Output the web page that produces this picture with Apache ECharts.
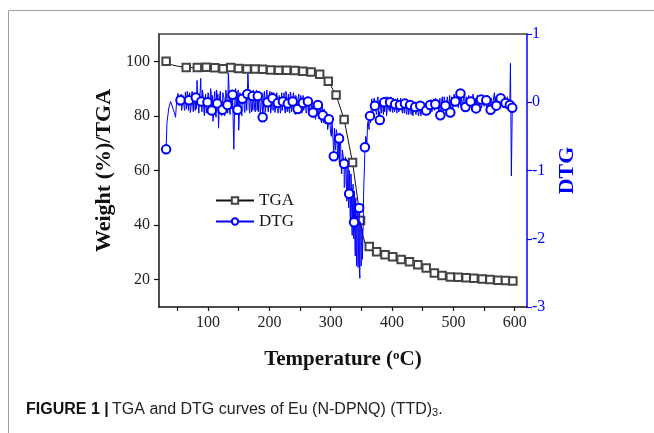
<!DOCTYPE html>
<html>
<head>
<meta charset="utf-8">
<script src="https://cdn.jsdelivr.net/npm/echarts@6/dist/echarts.min.js"></script>
<style>
html,body{margin:0;padding:0;background:#fff;}
#chart{width:654px;height:433px;}
</style>
</head>
<body>
<div id="chart"></div>
<script>
// X-axis tick labels and ticks
const xTickLabels = [100, 200, 300, 400, 500, 600];
const xTickMarks = [50, 100, 150, 200, 250, 300, 350, 400, 450, 500, 550, 600];
const yLeftTickLabels = [20, 40, 60, 80, 100];

// TGA markers (temperature °C, weight %)
const tgaT = [31.6, 64.4, 82.5, 97, 111, 124.6, 137, 149.7, 163.4, 176.5, 189, 202, 215, 228, 241.5, 254.6, 268, 282, 296, 308.7, 321.8, 335.6, 348.6, 362.8, 374.9, 388.5, 401, 414.8, 428.4, 442, 455.7, 468.9, 481.5, 495, 507.7, 520.8, 533.3, 547, 559.5, 572.6, 585, 597];
const tgaW = [100, 97.7, 97.7, 97.8, 97.6, 97.3, 97.7, 97.4, 97.2, 97.2, 97.1, 96.8, 96.7, 96.7, 96.6, 96.4, 96.1, 95.3, 92.7, 87.7, 78.7, 62.9, 41.7, 32.2, 30.2, 29.1, 28.4, 27.4, 26.6, 25.5, 24.3, 22.5, 21.5, 21.0, 20.9, 20.7, 20.5, 20.3, 20.1, 19.8, 19.7, 19.5];
// extra TGA curve points (no marker)
const tgaLineT = [40, 48, 352, 356];
const tgaLineW = [98.8, 98.3, 36.5, 33.3];

// DTG markers
const dtgMarkT = [31.6, 55, 69, 80, 89, 99, 106, 115, 123.5, 131.6, 140, 148, 156, 164, 172.6, 181, 189, 197, 205, 213.6, 222, 230, 238, 246, 254.6, 262.8, 271, 279, 287, 297, 305, 313.6, 321.8, 330, 338, 346.4, 355.7, 364, 372, 380, 387, 396.7, 405, 413, 421, 429.5, 437.7, 446, 455.7, 462, 470.5, 478.7, 487, 495, 503, 511.5, 519.7, 528, 537, 545, 553.6, 560.7, 570, 577, 585, 592, 596];
const dtgMarkV = [-0.69, 0.03, 0.03, 0.07, 0.01, 0.0, -0.12, -0.02, -0.11, -0.04, 0.11, -0.11, 0.05, 0.12, 0.09, 0.09, -0.22, 0.0, 0.06, -0.01, 0.01, -0.02, 0.01, -0.10, -0.01, 0.01, -0.15, -0.04, -0.19, -0.25, -0.79, -0.53, -0.90, -1.34, -1.76, -1.55, -0.66, -0.2, -0.05, -0.26, 0.0, 0.0, -0.03, -0.04, -0.02, -0.04, -0.07, -0.05, -0.12, -0.04, -0.03, -0.19, -0.05, -0.15, 0.01, 0.13, -0.07, 0.01, -0.09, 0.04, 0.03, -0.11, -0.05, 0.06, -0.01, -0.04, -0.08];

// DTG noisy trace (no marker)
const dtgT = [33, 36, 39, 42, 45, 47, 49, 51, 53, 57, 59, 61, 63, 65, 67, 71, 73, 75, 77, 79, 82, 84, 86, 88, 90, 92, 94, 96, 98, 101, 103, 105, 108, 110, 112, 114, 117, 119, 121, 125, 127, 129, 133, 135, 137, 139, 142, 144, 146, 150, 152, 154, 158, 160, 162, 165, 167, 169, 171, 174, 176, 178, 180, 183, 185, 187, 191, 193, 195, 199, 201, 203, 207, 209, 211, 215, 217, 219, 224, 226, 228, 232, 234, 236, 240, 242, 244, 248, 250, 252, 257, 259, 261, 265, 267, 269, 273, 275, 277, 281, 283, 285, 289, 291, 293, 295, 299, 301, 303, 307, 309, 311, 315, 317, 319, 323, 325, 327, 328.5, 331.5, 333, 334.5, 336, 339.5, 341, 342.5, 344, 345, 347.5, 349, 350.5, 352, 353.5, 355, 357, 359, 361, 362.5, 366, 368, 370, 374, 376, 378, 382, 384, 386, 389, 391, 393, 395, 399, 401, 403, 407, 409, 411, 415, 417, 419, 423, 425, 427, 432, 434, 436, 440, 442, 444, 448, 450, 452, 458, 460, 464, 466, 468, 473, 475, 477, 481, 483, 485, 489, 491, 493, 497, 499, 501, 505, 507, 509, 514, 516, 518, 522, 524, 526, 530, 532, 534, 539, 541, 543, 547, 549, 551, 556, 558, 563, 565, 567, 572, 574, 579, 581, 583, 587, 589, 593, 594.5];
const dtgV = [-0.30, -0.08, 0.01, 0.02, -0.15, -0.22, 0.05, 0.13, -0.05, -0.12, 0.10, -0.08, 0.15, -0.10, 0.12, -0.15, 0.08, -0.06, 0.14, -0.12, 0.32, -0.05, 0.10, 0.35, -0.14, 0.08, -0.20, 0.12, -0.08, 0.10, -0.18, 0.15, -0.28, 0.08, -0.15, 0.18, -0.38, 0.10, -0.16, 0.12, -0.20, 0.18, 0.43, -0.12, 0.14, -0.10, -0.69, 0.15, -0.18, -0.41, 0.14, -0.12, 0.16, -0.15, 0.10, 0.42, -0.10, 0.12, -0.14, 0.18, -0.10, 0.15, -0.12, 0.13, -0.18, 0.05, 0.10, -0.15, 0.12, -0.12, 0.16, -0.10, 0.14, -0.15, 0.08, -0.14, 0.12, -0.10, 0.14, -0.16, 0.10, -0.12, 0.15, -0.14, 0.10, -0.18, 0.06, 0.12, -0.16, 0.05, -0.14, 0.08, -0.12, 0.05, -0.20, 0.02, -0.08, -0.25, 0.0, -0.22, -0.05, -0.30, -0.10, -0.32, -0.15, -0.40, -0.35, -0.50, -0.30, -0.60, -0.40, -0.75, -0.45, -0.95, -0.70, -1.20, -0.85, -1.40, -0.95, -1.60, -1.05, -1.85, -1.25, -2.10, -1.40, -2.35, -1.60, -2.30, -2.58, -1.80, -2.30, -2.16, -1.40, -0.95, -0.50, -0.60, -0.28, -0.40, -0.10, -0.25, 0.02, -0.15, 0.05, -0.20, -0.10, 0.04, -0.18, 0.05, -0.20, 0.08, -0.12, 0.06, -0.15, 0.05, -0.12, 0.06, -0.14, 0.04, -0.16, 0.03, -0.15, 0.02, -0.18, -0.02, -0.20, 0.0, -0.20, -0.02, -0.16, -0.18, -0.03, -0.20, -0.05, -0.14, 0.02, -0.15, 0.05, -0.12, 0.06, -0.10, 0.03, -0.14, 0.08, -0.12, 0.10, -0.08, 0.08, -0.10, 0.12, -0.08, 0.10, -0.06, 0.06, -0.08, 0.14, 0.0, -0.10, 0.10, -0.08, 0.12, -0.02, 0.10, -0.12, 0.05, -0.06, 0.12, -0.05, 0.10, -0.12, 0.05, -0.08, 0.14, -0.10, 0.04, 0.10, -0.08, 0.08, -0.10, 0.06, 0.57, -1.08];

// additional DTG trace readings (denser sampling of the noisy band)
const dtgT2 = [56, 58, 60, 62, 64, 66, 68, 70, 72, 74, 76, 78, 81, 83, 85, 87, 91, 93, 95, 97, 100, 102, 104, 107, 109, 111, 113, 116, 118, 120, 122, 124, 126, 128, 130, 132, 134, 136, 138, 141, 143, 145, 147, 149, 151, 153, 155, 157, 159, 161, 163, 166, 168, 170, 173, 175, 177, 179, 182, 184, 186, 188, 190, 192, 194, 196, 198, 200, 202, 204, 206, 208, 210, 212, 214, 216, 218, 220, 221, 223, 225, 227, 229, 231, 233, 235, 237, 239, 241, 243, 245, 247, 249, 251, 253, 255, 256, 258, 260, 262, 264, 266, 268, 270, 272, 274, 276, 278, 280, 282, 284, 286, 288, 290, 292, 294, 296, 298, 300, 302, 304, 306, 308, 310, 312, 313, 314, 316, 318, 320, 322, 324, 326, 328, 329, 330.5, 332, 333.5, 335, 336.5, 337.5, 338.5, 340, 340.5, 342, 343, 344.5, 346, 346.8, 348, 349.5, 351, 351.5, 352.5, 353, 354, 356, 358, 360, 363, 365, 367, 369, 371, 373, 375, 377, 379, 381, 383, 385, 388, 390, 392, 394, 397, 398, 400, 402, 404, 406, 408, 410, 412, 414, 416, 418, 420, 422, 424, 426, 428, 430, 431, 433, 435, 437, 439, 441, 443, 445, 447, 449, 451, 453, 454, 456, 457, 459, 461, 463, 465, 467, 469, 471, 472, 474, 476, 478, 480, 482, 484, 486, 488, 490, 492, 494, 496, 498, 500, 502, 504, 506, 508, 510, 512, 513, 515, 517, 519, 521, 523, 525, 527, 529, 531, 533, 535, 536, 538, 540, 542, 544, 546, 548, 550, 552, 554, 555, 557, 559, 561, 562, 564, 566, 568, 569, 571, 573, 575, 576, 578, 580, 582, 584, 586, 588, 590, 591];
const dtgV2 = [0.12, -0.14, 0.08, -0.12, 0.05, 0.16, -0.12, 0.14, -0.10, 0.16, -0.14, 0.06, -0.10, 0.12, -0.16, 0.14, 0.18, -0.10, 0.06, -0.16, 0.14, -0.10, 0.20, 0.10, -0.20, 0.16, -0.22, 0.12, -0.14, 0.16, -0.20, 0.14, 0.06, -0.14, 0.20, -0.16, 0.28, -0.18, 0.16, 0.12, -0.22, 0.20, 0.10, 0.18, -0.16, 0.16, -0.20, 0.12, -0.10, 0.18, -0.12, 0.20, -0.16, 0.14, -0.12, 0.16, -0.14, 0.18, -0.14, 0.16, -0.10, 0.14, -0.12, 0.16, -0.10, 0.18, -0.14, 0.12, -0.16, 0.15, -0.12, 0.16, -0.12, 0.14, -0.16, 0.10, -0.16, 0.14, -0.12, 0.10, -0.12, 0.16, -0.14, 0.12, -0.16, 0.12, -0.12, 0.14, -0.14, 0.10, -0.16, 0.08, -0.12, 0.10, -0.16, 0.10, -0.12, 0.06, -0.16, 0.08, -0.14, 0.06, -0.18, 0.04, -0.22, 0.0, -0.20, 0.02, -0.24, -0.02, -0.26, -0.06, -0.30, -0.12, -0.34, -0.18, -0.42, -0.20, -0.46, -0.28, -0.58, -0.38, -0.70, -0.45, -0.82, -0.50, -0.88, -0.58, -1.05, -0.72, -1.25, -0.80, -1.45, -0.90, -1.55, -1.00, -1.75, -1.15, -1.95, -1.20, -2.00, -1.30, -2.25, -1.45, -2.40, -1.55, -2.42, -1.70, -2.50, -1.75, -2.40, -1.85, -2.30, -1.90, -1.80, -1.20, -0.70, -0.55, -0.32, -0.15, -0.30, 0.05, -0.18, 0.06, -0.12, -0.18, 0.08, -0.14, 0.02, -0.16, 0.06, -0.14, 0.08, -0.12, 0.06, -0.14, 0.08, -0.10, 0.06, -0.14, 0.05, -0.16, 0.04, -0.10, 0.06, -0.12, 0.04, -0.16, 0.04, -0.18, 0.0, -0.16, 0.02, -0.18, 0.0, -0.22, -0.04, -0.18, 0.0, -0.20, -0.02, -0.20, 0.0, -0.18, -0.04, -0.16, -0.02, -0.18, 0.0, -0.12, 0.04, -0.14, 0.02, -0.12, 0.06, -0.10, 0.04, -0.14, 0.06, -0.12, 0.08, -0.10, 0.06, -0.12, 0.08, -0.08, 0.10, -0.10, 0.08, -0.08, 0.12, -0.06, 0.10, -0.08, 0.10, -0.06, 0.08, -0.06, 0.10, -0.04, 0.08, -0.08, 0.10, -0.06, 0.08, -0.10, 0.10, -0.06, 0.06, -0.10, 0.08, -0.10, 0.06, -0.08, 0.10, -0.06, 0.08, -0.08, 0.06, -0.06, 0.08, -0.10, 0.06, -0.08, 0.10, -0.04, 0.08, -0.10, 0.06, -0.08, 0.10, -0.04, 0.08, -0.10, 0.06, -0.08, 0.08, -0.06, 0.04];

function merge(markT, markV, markSym, lineSets) {
  const pts = [];
  markT.forEach((t, i) => pts.push({ value: [t, markV[i]], symbol: markSym }));
  lineSets.forEach(([lt, lv]) => lt.forEach((t, i) => pts.push({ value: [t, lv[i]], symbol: 'none' })));
  pts.sort((a, b) => a.value[0] - b.value[0]);
  return pts;
}

const serif = 'Liberation Serif';
const chart = echarts.init(document.getElementById('chart'), null, { renderer: 'canvas' });

chart.setOption({
  animation: false,
  backgroundColor: '#fff',
  grid: { left: 159, right: 127, top: 34, bottom: 126 },
  legend: {
    data: ['TGA', 'DTG'],
    orient: 'vertical',
    left: 215,
    top: 192,
    padding: 0,
    itemWidth: 38,
    itemHeight: 8,
    itemGap: 4,
    textStyle: { fontFamily: serif, fontSize: 17, color: '#111' }
  },
  xAxis: [{
    type: 'value', min: 20, max: 620, position: 'bottom',
    name: 'Temperature ({sup|o}C)',
    nameLocation: 'middle', nameGap: 42,
    nameTextStyle: {
      fontFamily: serif, fontSize: 21, fontWeight: 'bold', color: '#111',
      rich: { sup: { fontFamily: serif, fontSize: 13, fontWeight: 'bold', color: '#111', verticalAlign: 'top', padding: [0, 0, 8, 0] } }
    },
    axisLine: { show: true, onZero: false, lineStyle: { color: '#111', width: 1.5 } },
    axisTick: { show: true, length: 4, customValues: xTickMarks, lineStyle: { color: '#111', width: 1.2 } },
    axisLabel: { customValues: xTickLabels, fontFamily: serif, fontSize: 16, color: '#222', margin: 8 },
    splitLine: { show: false }
  }, {
    type: 'value', min: 20, max: 620, position: 'top',
    axisLine: { show: true, onZero: false, lineStyle: { color: '#444', width: 1.5 } },
    axisTick: { show: false }, axisLabel: { show: false }, splitLine: { show: false }
  }],
  yAxis: [{
    type: 'value', min: 10, max: 110, position: 'left',
    name: 'Weight (%)/TGA', nameLocation: 'middle', nameGap: 44, nameRotate: 90,
    nameTextStyle: { fontFamily: serif, fontSize: 22, fontWeight: 'bold', color: '#111' },
    axisLine: { show: true, onZero: false, lineStyle: { color: '#111', width: 1.5 } },
    axisTick: { show: true, length: 5, customValues: yLeftTickLabels, lineStyle: { color: '#111', width: 1.2 } },
    axisLabel: { customValues: yLeftTickLabels, fontFamily: serif, fontSize: 16, color: '#222', margin: 9 },
    splitLine: { show: false }
  }, {
    type: 'value', min: -3, max: 1, interval: 1, position: 'right',
    name: 'DTG', nameLocation: 'middle', nameGap: 27, nameRotate: 90,
    nameTextStyle: { fontFamily: serif, fontSize: 22, fontWeight: 'bold', color: '#0000ff' },
    axisLine: { show: true, onZero: false, lineStyle: { color: '#0000ff', width: 1.5 } },
    axisTick: { show: true, length: 5, lineStyle: { color: '#0000ff', width: 1.2 } },
    axisLabel: { fontFamily: serif, fontSize: 16, color: '#0000ff', margin: 5 },
    splitLine: { show: false }
  }],
  series: [{
    name: 'TGA', type: 'line', xAxisIndex: 0, yAxisIndex: 0,
    data: merge(tgaT, tgaW, 'emptyRect', [[tgaLineT, tgaLineW]]),
    symbol: 'emptyRect', symbolSize: 7.5, showSymbol: true, showAllSymbol: true,
    itemStyle: { color: '#444', borderWidth: 1 },
    lineStyle: { color: '#111', width: 1 },
    z: 2
  }, {
    name: 'DTG', type: 'line', xAxisIndex: 0, yAxisIndex: 1,
    data: merge(dtgMarkT, dtgMarkV, 'emptyCircle', [[dtgT, dtgV], [dtgT2, dtgV2]]),
    symbol: 'emptyCircle', symbolSize: 8.5, showSymbol: true, showAllSymbol: true,
    itemStyle: { color: '#0000ff', borderWidth: 1 },
    lineStyle: { color: '#0000ff', width: 1 },
    z: 3
  }],
  graphic: [
    { type: 'line', shape: { x1: 8.5, y1: 10.5, x2: 654, y2: 10.5 }, style: { stroke: '#a0a0a0', lineWidth: 1 } },
    { type: 'line', shape: { x1: 8.5, y1: 10.5, x2: 8.5, y2: 433 }, style: { stroke: '#a0a0a0', lineWidth: 1 } },
    {
      type: 'text', left: 26, top: 402,
      style: {
        text: '{b|FIGURE 1 |} {r|TGA and DTG curves of Eu (N-DPNQ) (TTD)}{s|3}{r|.}',
        rich: {
          b: { fontFamily: 'Liberation Sans', fontSize: 16, fontWeight: 'bold', fill: '#111' },
          r: { fontFamily: 'Liberation Sans', fontSize: 16, fill: '#222' },
          s: { fontFamily: 'Liberation Sans', fontSize: 11, fill: '#222', verticalAlign: 'bottom', padding: [6, 0, 0, 0] }
        }
      }
    }
  ]
});
</script>
</body>
</html>
